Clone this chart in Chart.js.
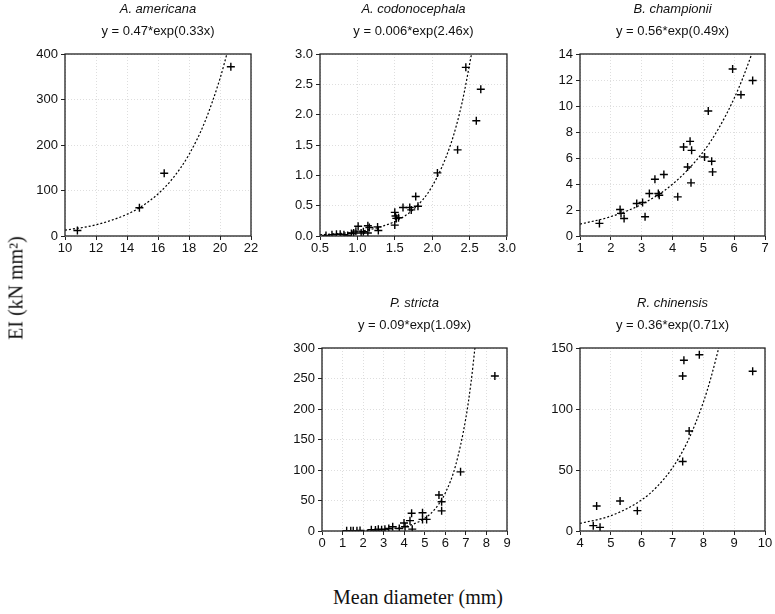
<!DOCTYPE html>
<html>
<head>
<meta charset="utf-8">
<script src="https://cdn.jsdelivr.net/npm/chart.js@4.4.1/dist/chart.umd.min.js"></script>
<style>
  html, body { margin: 0; padding: 0; background: #fff; overflow: hidden; }
  #page { position: relative; width: 775px; height: 614px; }
  canvas { position: absolute; }
  .axis-title { position: absolute; font-family: "Liberation Serif", "Times New Roman", serif; font-size: 20px; color: #111; white-space: nowrap; }
  #ytitle { left: 16px; top: 288px; transform: translate(-50%, -50%) rotate(-90deg); }
  #xtitle { left: 418px; top: 597px; transform: translate(-50%, -50%); }
</style>
</head>
<body>
<div id="page">
  <canvas id="c1"></canvas>
  <canvas id="c2"></canvas>
  <canvas id="c3"></canvas>
  <canvas id="c4"></canvas>
  <canvas id="c5"></canvas>
  <div class="axis-title" id="ytitle">EI (kN mm²)</div>
  <div class="axis-title" id="xtitle">Mean diameter (mm)</div>
</div>
<script>
// species names and fitted equations
const species = ['A. americana', 'A. codonocephala', 'B. championii', 'P. stricta', 'R. chinensis'];
const equations = ['y = 0.47*exp(0.33x)', 'y = 0.006*exp(2.46x)', 'y = 0.56*exp(0.49x)', 'y = 0.09*exp(1.09x)', 'y = 0.36*exp(0.71x)'];

// measured points (diameter mm, EI kN mm2)
const americanaX = [10.8, 14.8, 16.4, 20.7];
const americanaY = [12, 62, 138, 372];

const codonoX = [0.58, 0.66, 0.72, 0.77, 0.82, 0.87, 0.92, 0.95, 0.98, 1.01, 1.05, 1.08, 1.14, 1.14, 1.16, 1.27, 1.28,
  1.5, 1.5, 1.51, 1.52, 1.55, 1.61, 1.7, 1.72, 1.78, 1.81, 2.07, 2.34, 2.45, 2.59, 2.65];
const codonoY = [0.01, 0.02, 0.03, 0.03, 0.02, 0.01, 0.04, 0.05, 0.08, 0.16, 0.05, 0.07, 0.17, 0.05, 0.14, 0.15, 0.09,
  0.18, 0.39, 0.33, 0.29, 0.3, 0.47, 0.47, 0.43, 0.65, 0.49, 1.04, 1.42, 2.78, 1.9, 2.42];

const championiiX = [1.63, 2.3, 2.33, 2.43, 2.84, 3.03, 3.11, 3.25, 3.43, 3.54, 3.57, 3.72, 4.17, 4.36, 4.49, 4.57, 4.62,
  4.6, 5.04, 5.16, 5.27, 5.3, 5.95, 6.22, 6.6];
const championiiY = [0.97, 2.04, 1.74, 1.35, 2.5, 2.58, 1.48, 3.27, 4.37, 3.27, 3.14, 4.73, 3.01, 6.85, 5.31, 7.28, 6.59,
  4.09, 6.08, 9.61, 5.75, 4.93, 12.85, 10.86, 11.96];

const strictaX = [1.2, 1.4, 1.52, 1.7, 1.85, 2.4, 2.6, 2.74, 2.9, 3.06, 3.25, 3.44, 3.76, 3.99, 4.04, 4.28, 4.36, 4.39,
  4.89, 4.89, 5.09, 5.69, 5.82, 5.82, 6.74, 8.41];
const strictaY = [0.5, 0.4, 0.5, 0.6, 1, 2, 1.5, 3, 2, 3, 4, 7, 4, 13, 7, 17, 29, 3,
  30, 19, 19, 59, 48, 33, 97, 254];

const chinensisX = [4.43, 4.54, 4.65, 5.3, 5.86, 7.33, 7.33, 7.37, 7.54, 7.87, 9.6];
const chinensisY = [4.4, 20.5, 3, 24.6, 16.7, 57, 127, 140, 82, 144.5, 131];

// fitted curves as drawn in each panel
const fit1X = [10, 12, 14, 15, 16, 17, 18, 19, 20, 20.44];
const fit1Y = [12.7, 24.6, 47.7, 66.3, 92.4, 128.7, 179, 249, 346, 399.5];
const fit2X = [0.5, 0.75, 1.0, 1.25, 1.5, 1.75, 2.0, 2.25, 2.4, 2.526];
const fit2Y = [0.02, 0.04, 0.07, 0.13, 0.24, 0.44, 0.82, 1.52, 2.2, 3.0];
const fit3X = [1, 2, 3, 4, 5, 5.5, 6, 6.3, 6.57];
const fit3Y = [0.91, 1.49, 2.44, 3.98, 6.49, 8.29, 10.59, 12.27, 14.0];
const fit4X = [1, 2, 3, 4, 4.5, 5, 5.5, 6, 6.5, 7, 7.25, 7.44];
const fit4Y = [0.27, 0.8, 2.37, 7.04, 12.1, 20.9, 36.1, 62.3, 107.5, 185.4, 243.6, 300];
const fit5X = [4, 5, 6, 6.5, 7, 7.5, 8, 8.25, 8.5];
const fit5Y = [6.2, 12.5, 25.5, 36.4, 51.8, 73.9, 105.5, 126, 150];

// axis ranges: [min, max, step]
const xRanges = [[10, 22, 2], [0.5, 3.0, 0.5], [1, 7, 1], [0, 9, 1], [4, 10, 1]];
const yRanges = [[0, 400, 100], [0, 3.0, 0.5], [0, 14, 2], [0, 300, 50], [0, 150, 50]];

const TICK_FONT = { family: '"Liberation Sans", Arial, sans-serif', size: 13 };
const Y_AXIS_W = 50, TITLE_H = 54, X_AXIS_H = 22, PAD_R = 10;

function toPoints(xs, ys) {
  return xs.map((x, i) => ({ x: x, y: ys[i] }));
}

// box around the plotting area
const frame = {
  id: 'frame',
  afterDatasetsDraw(chart) {
    const a = chart.chartArea, ctx = chart.ctx;
    ctx.save();
    ctx.strokeStyle = '#222';
    ctx.lineWidth = 1.3;
    ctx.strokeRect(a.left, a.top, a.right - a.left, a.bottom - a.top);
    ctx.restore();
  }
};

function makePanel(id, i, xs, ys, fx, fy, area, decimals) {
  const cv = document.getElementById(id);
  const w = (area.R - area.L) + Y_AXIS_W + PAD_R;
  const h = (area.B - area.T) + TITLE_H + X_AXIS_H;
  cv.style.left = (area.L - Y_AXIS_W) + 'px';
  cv.style.top = (area.T - TITLE_H) + 'px';
  cv.width = w;
  cv.height = h;

  const fmt = v => decimals ? Number(v).toFixed(decimals) : v;
  const axis = (r, isY) => ({
    type: 'linear',
    min: r[0],
    max: r[1],
    ticks: {
      stepSize: r[2],
      color: '#111',
      font: TICK_FONT,
      padding: isY ? 3 : 1,
      maxRotation: 0,
      callback: isY ? fmt : (v => (xRanges[i][2] < 1 ? Number(v).toFixed(1) : v))
    },
    grid: { color: '#dedede', lineWidth: 1, tickLength: 4, tickColor: '#222', drawTicks: true },
    border: { display: false, dash: [1, 2] },
    afterFit: s => { if (isY) s.width = Y_AXIS_W; else s.height = X_AXIS_H; }
  });

  return new Chart(cv, {
    type: 'scatter',
    plugins: [frame],
    data: {
      datasets: [
        {
          data: toPoints(xs, ys),
          pointStyle: 'cross',
          pointRadius: 4,
          borderColor: '#000',
          backgroundColor: '#000',
          borderWidth: 1.4
        },
        {
          data: toPoints(fx, fy),
          showLine: true,
          pointRadius: 0,
          borderColor: '#000',
          borderWidth: 1.2,
          borderDash: [2, 2],
          cubicInterpolationMode: 'monotone'
        }
      ]
    },
    options: {
      responsive: false,
      animation: false,
      layout: { padding: { left: 0, right: PAD_R, top: 0, bottom: 0 } },
      scales: { x: axis(xRanges[i], false), y: axis(yRanges[i], true) },
      plugins: {
        legend: { display: false },
        tooltip: { enabled: false },
        title: {
          display: true,
          fullSize: false,
          text: species[i],
          color: '#111',
          font: { family: TICK_FONT.family, size: 13, style: 'italic', weight: 'normal' },
          padding: { top: 2, bottom: 6 }
        },
        subtitle: {
          display: true,
          fullSize: false,
          text: equations[i],
          color: '#111',
          font: { family: TICK_FONT.family, size: 13 },
          padding: { top: 0, bottom: 14.8 }
        }
      }
    }
  });
}

makePanel('c1', 0, americanaX, americanaY, fit1X, fit1Y, { L: 65, R: 251, T: 54, B: 236 }, 0);
makePanel('c2', 1, codonoX, codonoY, fit2X, fit2Y, { L: 320, R: 507, T: 54, B: 236 }, 1);
makePanel('c3', 2, championiiX, championiiY, fit3X, fit3Y, { L: 580, R: 765, T: 54, B: 236 }, 0);
makePanel('c4', 3, strictaX, strictaY, fit4X, fit4Y, { L: 322, R: 507, T: 348, B: 531 }, 0);
makePanel('c5', 4, chinensisX, chinensisY, fit5X, fit5Y, { L: 580, R: 765, T: 348, B: 531 }, 0);
</script>
</body>
</html>
